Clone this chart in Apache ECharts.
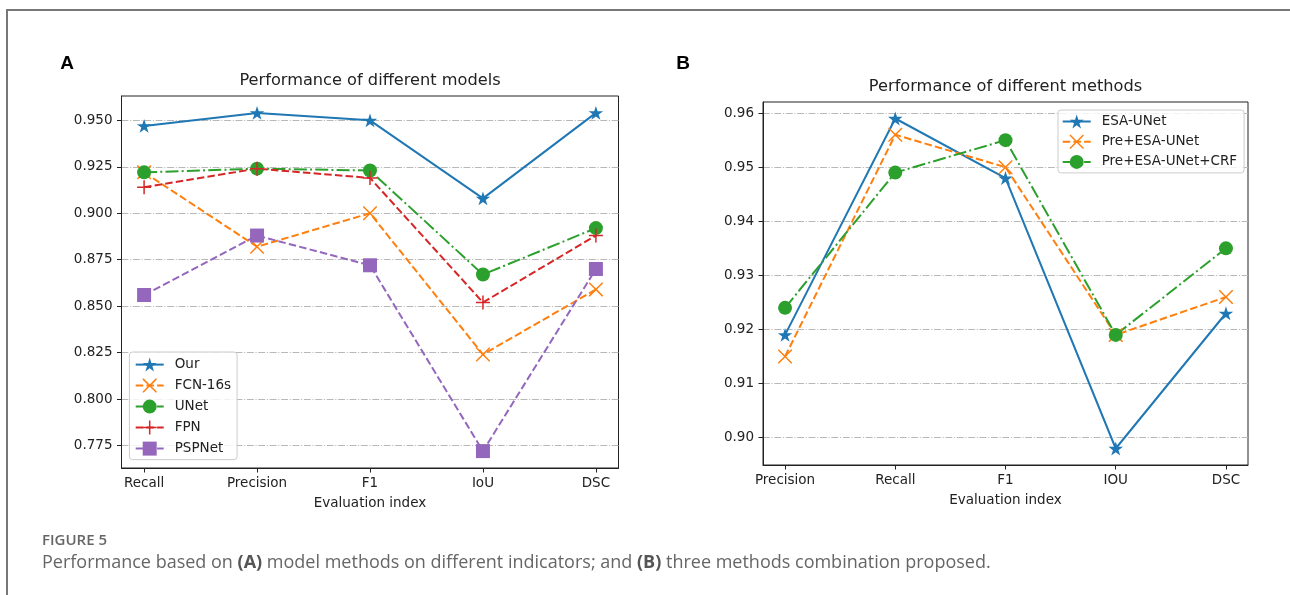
<!DOCTYPE html>
<html>
<head>
<meta charset="utf-8">
<script src="https://cdn.jsdelivr.net/npm/echarts@6/dist/echarts.min.js"></script>
<style>
  html, body { margin: 0; padding: 0; background: #fff; }
  #chart { width: 1290px; height: 595px; }
</style>
</head>
<body>
<div id="chart"></div>
<script>
// panel A: models
const modelIndexes = ['Recall', 'Precision', 'F1', 'IoU', 'DSC'];
const ourValues = [0.947, 0.954, 0.950, 0.908, 0.954];
const fcnValues = [0.922, 0.882, 0.900, 0.824, 0.859];
const unetValues = [0.922, 0.924, 0.923, 0.867, 0.892];
const fpnValues = [0.914, 0.924, 0.919, 0.852, 0.888];
const pspValues = [0.856, 0.888, 0.872, 0.772, 0.870];
const modelTicks = [0.775, 0.800, 0.825, 0.850, 0.875, 0.900, 0.925, 0.950];

// panel B: methods
const methodIndexes = ['Precision', 'Recall', 'F1', 'IOU', 'DSC'];
const esaValues = [0.919, 0.959, 0.948, 0.898, 0.923];
const preEsaValues = [0.915, 0.956, 0.950, 0.919, 0.926];
const preEsaCrfValues = [0.924, 0.949, 0.955, 0.919, 0.935];
const methodTicks = [0.90, 0.91, 0.92, 0.93, 0.94, 0.95, 0.96];

const FONT = 'DejaVu Sans';
const INK = '#222';
const SOLID = 'solid';
const DASHED = [7.5, 3.2];
const DASHDOT = [13, 3.2, 2, 3.2];

// matplotlib style markers
function starPath() {
  const pts = [];
  for (let i = 0; i < 10; i++) {
    const r = i % 2 === 0 ? 1 : 0.381966;
    const a = -Math.PI / 2 + i * Math.PI / 5;
    pts.push((r * Math.cos(a)).toFixed(4) + ',' + (r * Math.sin(a)).toFixed(4));
  }
  return 'path://M' + pts.join('L') + 'Z';
}
const STAR = starPath();
const PLUS = 'path://M6.25,0H7.75V6.25H14V7.75H7.75V14H6.25V7.75H0V6.25H6.25Z';
const XMARK = 'path://M0,0L1.06,0L14,12.94L14,14L12.94,14L0,1.06Z' +
  'M14,0L14,1.06L1.06,14L0,14L0,12.94L12.94,0Z';

// matplotlib autoscale: 5% margin around data
function padRange(arrays) {
  const all = [].concat(...arrays);
  const lo = Math.min(...all), hi = Math.max(...all);
  const m = (hi - lo) * 0.05;
  return [lo - m, hi + m];
}
const modelRange = padRange([ourValues, fcnValues, unetValues, fpnValues, pspValues]);
const methodRange = padRange([esaValues, preEsaValues, preEsaCrfValues]);

function lineSeries(name, values, color, dash, symbol, size, idx) {
  return {
    name: name,
    type: 'line',
    xAxisIndex: idx,
    yAxisIndex: idx,
    data: values.map((v, i) => [i, v]),
    symbol: symbol,
    symbolSize: size,
    symbolKeepAspect: true,
    showSymbol: true,
    lineStyle: { color: color, width: 2, type: dash },
    itemStyle: { color: color },
    emphasis: { disabled: true },
    animation: false
  };
}

function xAxis(idx, names) {
  return {
    type: 'value', gridIndex: idx, min: -0.2, max: 4.2,
    axisLine: { show: true, onZero: false, lineStyle: { color: INK, width: 1 } },
    axisTick: { show: true, length: 4.5, customValues: [0, 1, 2, 3, 4], lineStyle: { color: INK } },
    axisLabel: {
      customValues: [0, 1, 2, 3, 4], margin: 8,
      formatter: v => names[Math.round(v)],
      fontFamily: FONT, fontSize: 13.5, color: INK
    },
    splitLine: { show: false },
    name: 'Evaluation index', nameLocation: 'middle', nameGap: 28,
    nameTextStyle: { fontFamily: FONT, fontSize: 13.5, color: INK }
  };
}

function yAxis(idx, range, ticks, digits) {
  return {
    type: 'value', gridIndex: idx, min: range[0], max: range[1],
    axisLine: { show: true, onZero: false, lineStyle: { color: INK, width: 1 } },
    axisTick: { show: true, length: 4.5, customValues: ticks, lineStyle: { color: INK } },
    axisLabel: {
      customValues: ticks, margin: 9,
      formatter: v => v.toFixed(digits),
      fontFamily: FONT, fontSize: 13.5, color: INK
    },
    splitLine: { show: true, lineStyle: { color: '#b8b8b8', width: 1, type: [6.9, 1.7, 1.1, 1.7] } }
  };
}

function legend(names, left, top, gap, padding) {
  return {
    data: names, orient: 'vertical', left: left, top: top,
    itemWidth: 28, itemHeight: 17.5, itemGap: gap, padding: padding,
    borderColor: '#cccccc', borderWidth: 1, borderRadius: 3,
    backgroundColor: 'rgba(255,255,255,0.8)',
    selectedMode: false,
    textStyle: { fontFamily: FONT, fontSize: 13.5, color: INK, padding: [0, 0, 0, 6] }
  };
}

function label(text, x, y, font, fill, align) {
  return {
    type: 'text', x: x, y: y,
    style: { text: text, font: font, fill: fill, align: align || 'center', verticalAlign: 'middle' }
  };
}

const chart = echarts.init(document.getElementById('chart'), null, { renderer: 'canvas' });
chart.setOption({
  animation: false,
  grid: [
    { left: 121.5, top: 96, width: 497, height: 372, show: true, borderColor: INK, borderWidth: 1 },
    { left: 763, top: 102, width: 485, height: 363, show: true, borderColor: INK, borderWidth: 1 }
  ],
  xAxis: [xAxis(0, modelIndexes), xAxis(1, methodIndexes)],
  yAxis: [yAxis(0, modelRange, modelTicks, 3), yAxis(1, methodRange, methodTicks, 2)],
  legend: [
    legend(['Our', 'FCN-16s', 'UNet', 'FPN', 'PSPNet'], 129.4, 352, 7, [5.6, 6, 4, 5.3]),
    legend(['ESA-UNet', 'Pre+ESA-UNet', 'Pre+ESA-UNet+CRF'], 1058, 110, 6.2, [4.5, 7, 4, 3.7])
  ],
  series: [
    lineSeries('Our', ourValues, '#1f77b4', SOLID, STAR, 14.5, 0),
    lineSeries('FCN-16s', fcnValues, '#ff7f0e', DASHED, XMARK, 14, 0),
    lineSeries('UNet', unetValues, '#2ca02c', DASHDOT, 'circle', 14, 0),
    lineSeries('FPN', fpnValues, '#d62728', DASHED, PLUS, 14, 0),
    lineSeries('PSPNet', pspValues, '#9467bd', DASHED, 'rect', 14, 0),
    lineSeries('ESA-UNet', esaValues, '#1f77b4', SOLID, STAR, 14.5, 1),
    lineSeries('Pre+ESA-UNet', preEsaValues, '#ff7f0e', DASHED, XMARK, 14, 1),
    lineSeries('Pre+ESA-UNet+CRF', preEsaCrfValues, '#2ca02c', DASHDOT, 'circle', 14, 1)
  ],
  graphic: [
    { type: 'polyline', shape: { points: [[7, 595], [7, 10], [1290, 10]] },
      style: { stroke: '#777', lineWidth: 2, fill: null } },
    label('A', 67, 64, 'bold 19px "Liberation Sans"', '#000'),
    label('B', 683, 64, 'bold 19px "Liberation Sans"', '#000'),
    label('Performance of different models', 370, 81, '16.2px "DejaVu Sans"', INK),
    label('Performance of different methods', 1005.5, 87, '16.2px "DejaVu Sans"', INK),
    label('FIGURE 5', 42, 541, '600 15px "Open Sans"', '#666', 'left'),
    {
      type: 'text', x: 42, y: 563,
      style: {
        text: 'Performance based on {b|(A)} model methods on different indicators; and {b|(B)} three methods combination proposed.',
        rich: { b: { fontWeight: 'bold', fontFamily: 'Open Sans', fontSize: 18, fill: '#555' } },
        font: '18px "Open Sans"', fill: '#666', align: 'left', verticalAlign: 'middle'
      }
    }
  ]
});
</script>
</body>
</html>
